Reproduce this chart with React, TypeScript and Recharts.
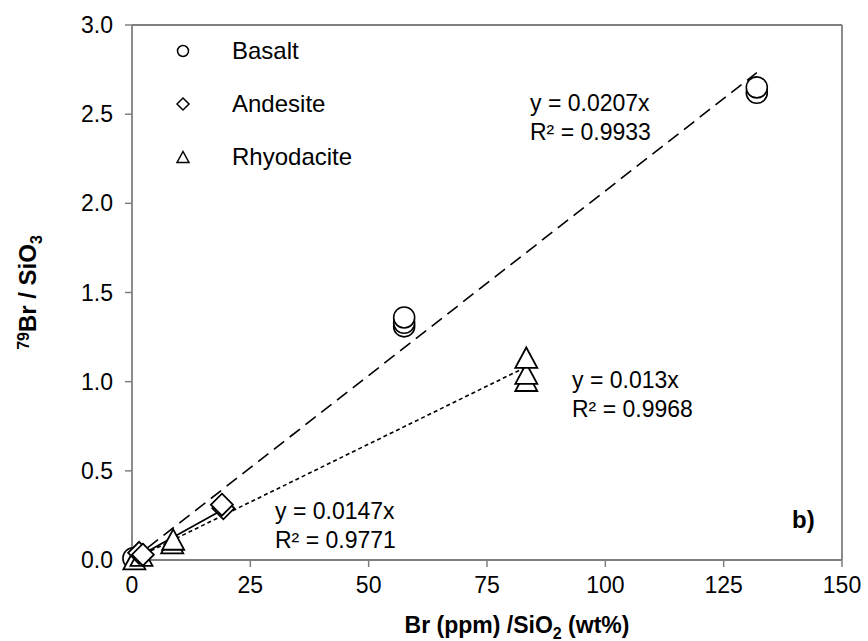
import React from 'react';
import { ComposedChart, Scatter, Line, XAxis, YAxis, ReferenceLine } from 'recharts';

const basalt = [
  { x: 0.3, y: 0.01 },
  { x: 132, y: 2.62 },
  { x: 132, y: 2.65 },
  { x: 57.5, y: 1.31 },
  { x: 57.5, y: 1.33 },
  { x: 57.5, y: 1.36 },
];

const andesite = [
  { x: 1.5, y: 0.04 },
  { x: 2.3, y: 0.03 },
  { x: 19.3, y: 0.29 },
  { x: 19.0, y: 0.31 },
];

const rhyodacite = [
  { x: 0.5, y: 0.0 },
  { x: 2.0, y: 0.02 },
  { x: 8.5, y: 0.09 },
  { x: 8.7, y: 0.11 },
  { x: 83.3, y: 1.0 },
  { x: 83.3, y: 1.04 },
  { x: 83.3, y: 1.13 },
];

// fitted slopes and the x range each fit line covers
const slopes = { basalt: 0.0207, andesite: 0.0147, rhyodacite: 0.013 };
const fitEnds = { basalt: 132, andesite: 20, rhyodacite: 83.3 };

const xTicks = [0, 25, 50, 75, 100, 125, 150];
const yTicks = [0, 0.5, 1, 1.5, 2, 2.5, 3];

const fitLine = (k: number, end: number) => [
  { x: 0, y: 0 },
  { x: end, y: k * end },
];

const FONT = '"Liberation Sans", Arial, sans-serif';
const AXIS = '#7f7f7f';

const CircleShape = (p: any) => (
  <circle cx={p.cx} cy={p.cy} r={10.5} fill="#fff" stroke="#000" strokeWidth={1.6} />
);
const DiamondShape = (p: any) => {
  const s = 11;
  return (
    <polygon
      points={`${p.cx},${p.cy - s} ${p.cx + s},${p.cy} ${p.cx},${p.cy + s} ${p.cx - s},${p.cy}`}
      fill="#fff"
      stroke="#000"
      strokeWidth={1.8}
    />
  );
};
const TriangleShape = (p: any) => {
  const s = 11;
  return (
    <polygon
      points={`${p.cx},${p.cy - s} ${p.cx + s},${p.cy + s * 0.85} ${p.cx - s},${p.cy + s * 0.85}`}
      fill="#fff"
      stroke="#000"
      strokeWidth={1.8}
    />
  );
};

const legendItems = [
  { name: 'Basalt', icon: 'circle' },
  { name: 'Andesite', icon: 'diamond' },
  { name: 'Rhyodacite', icon: 'triangle' },
];

const LegendIcon = ({ icon }: { icon: string }) => (
  <svg width={16} height={16} style={{ marginRight: 41 }}>
    {icon === 'circle' && <circle cx={8} cy={8} r={5.5} fill="none" stroke="#000" strokeWidth={1.5} />}
    {icon === 'diamond' && <polygon points="8,2 14,8 8,14 2,8" fill="none" stroke="#000" strokeWidth={1.5} />}
    {icon === 'triangle' && <polygon points="8,2.5 14,13.5 2,13.5" fill="none" stroke="#000" strokeWidth={1.5} />}
  </svg>
);

const XLabel = (props: any) => {
  const vb = props.viewBox;
  return (
    <text x={vb.x + vb.width / 2 + 30} y={vb.y + 73} textAnchor="middle" fontFamily={FONT} fontSize={23} fontWeight="bold" fill="#000">
      Br (ppm) /SiO
      <tspan fontSize={16} dy={6}>2</tspan>
      <tspan dy={-6}> (wt%)</tspan>
    </text>
  );
};

const YLabel = (props: any) => {
  const vb = props.viewBox;
  const cx = 36;
  const cy = vb.y + vb.height / 2;
  return (
    <text
      x={cx}
      y={cy}
      transform={`rotate(-90 ${cx} ${cy})`}
      textAnchor="middle"
      fontFamily={FONT}
      fontSize={24}
      fontWeight="bold"
      fill="#000"
    >
      <tspan fontSize={16} dy={-7}>79</tspan>
      <tspan dy={7}>Br / SiO</tspan>
      <tspan fontSize={16} dy={6}>3</tspan>
    </text>
  );
};

const note: React.CSSProperties = {
  position: 'absolute',
  fontFamily: FONT,
  fontSize: 23,
  color: '#000',
  lineHeight: '29px',
  whiteSpace: 'nowrap',
};

const App: React.FC = () => {
  const tick = { fill: '#000', fontSize: 23, fontFamily: FONT };
  return (
    <div style={{ position: 'absolute', left: 0, top: 0, width: 868, height: 641, background: '#fff' }}>
      <ComposedChart width={868} height={641} margin={{ top: 25, right: 26, bottom: 0, left: 72 }}>
        <XAxis
          type="number"
          dataKey="x"
          domain={[0, 150]}
          ticks={xTicks}
          tick={tick}
          tickSize={7}
          tickMargin={10}
          height={81}
          stroke={AXIS}
          strokeWidth={1.8}
          tickLine={{ stroke: AXIS, strokeWidth: 1.5 }}
          label={<XLabel />}
        />
        <YAxis
          type="number"
          dataKey="y"
          domain={[0, 3]}
          ticks={yTicks}
          tick={tick}
          tickSize={7}
          tickMargin={12}
          width={60}
          stroke={AXIS}
          strokeWidth={1.8}
          tickLine={{ stroke: AXIS, strokeWidth: 1.5 }}
          tickFormatter={(v: number) => v.toFixed(1)}
          label={<YLabel />}
        />
        <ReferenceLine y={3} stroke={AXIS} strokeWidth={1.8} />
        <ReferenceLine x={150} stroke={AXIS} strokeWidth={1.8} />
        <Line
          data={fitLine(slopes.basalt, fitEnds.basalt)}
          dataKey="y"
          stroke="#000"
          strokeWidth={1.6}
          strokeDasharray="13 7"
          dot={false}
          isAnimationActive={false}
        />
        <Line
          data={fitLine(slopes.rhyodacite, fitEnds.rhyodacite)}
          dataKey="y"
          stroke="#000"
          strokeWidth={1.6}
          strokeDasharray="4 3"
          dot={false}
          isAnimationActive={false}
        />
        <Line
          data={fitLine(slopes.andesite, fitEnds.andesite)}
          dataKey="y"
          stroke="#000"
          strokeWidth={1.8}
          dot={false}
          isAnimationActive={false}
        />
        <Scatter name="Basalt" data={basalt} shape={CircleShape} isAnimationActive={false} />
        <Scatter name="Rhyodacite" data={rhyodacite} shape={TriangleShape} isAnimationActive={false} />
        <Scatter name="Andesite" data={andesite} shape={DiamondShape} isAnimationActive={false} />
      </ComposedChart>
      <div style={{ position: 'absolute', left: 175, top: 24, fontFamily: FONT, fontSize: 24, color: '#000' }}>
        {legendItems.map((it) => (
          <div key={it.name} style={{ display: 'flex', alignItems: 'center', height: 53 }}>
            <LegendIcon icon={it.icon} />
            <span>{it.name}</span>
          </div>
        ))}
      </div>
      <div style={{ ...note, left: 530, top: 89 }}>
        y = 0.0207x<br />R² = 0.9933
      </div>
      <div style={{ ...note, left: 572, top: 366 }}>
        y = 0.013x<br />R² = 0.9968
      </div>
      <div style={{ ...note, left: 275, top: 497 }}>
        y = 0.0147x<br />R² = 0.9771
      </div>
      <div style={{ ...note, left: 792, top: 505, fontWeight: 'bold', fontSize: 24 }}>b)</div>
    </div>
  );
};

export default App;
